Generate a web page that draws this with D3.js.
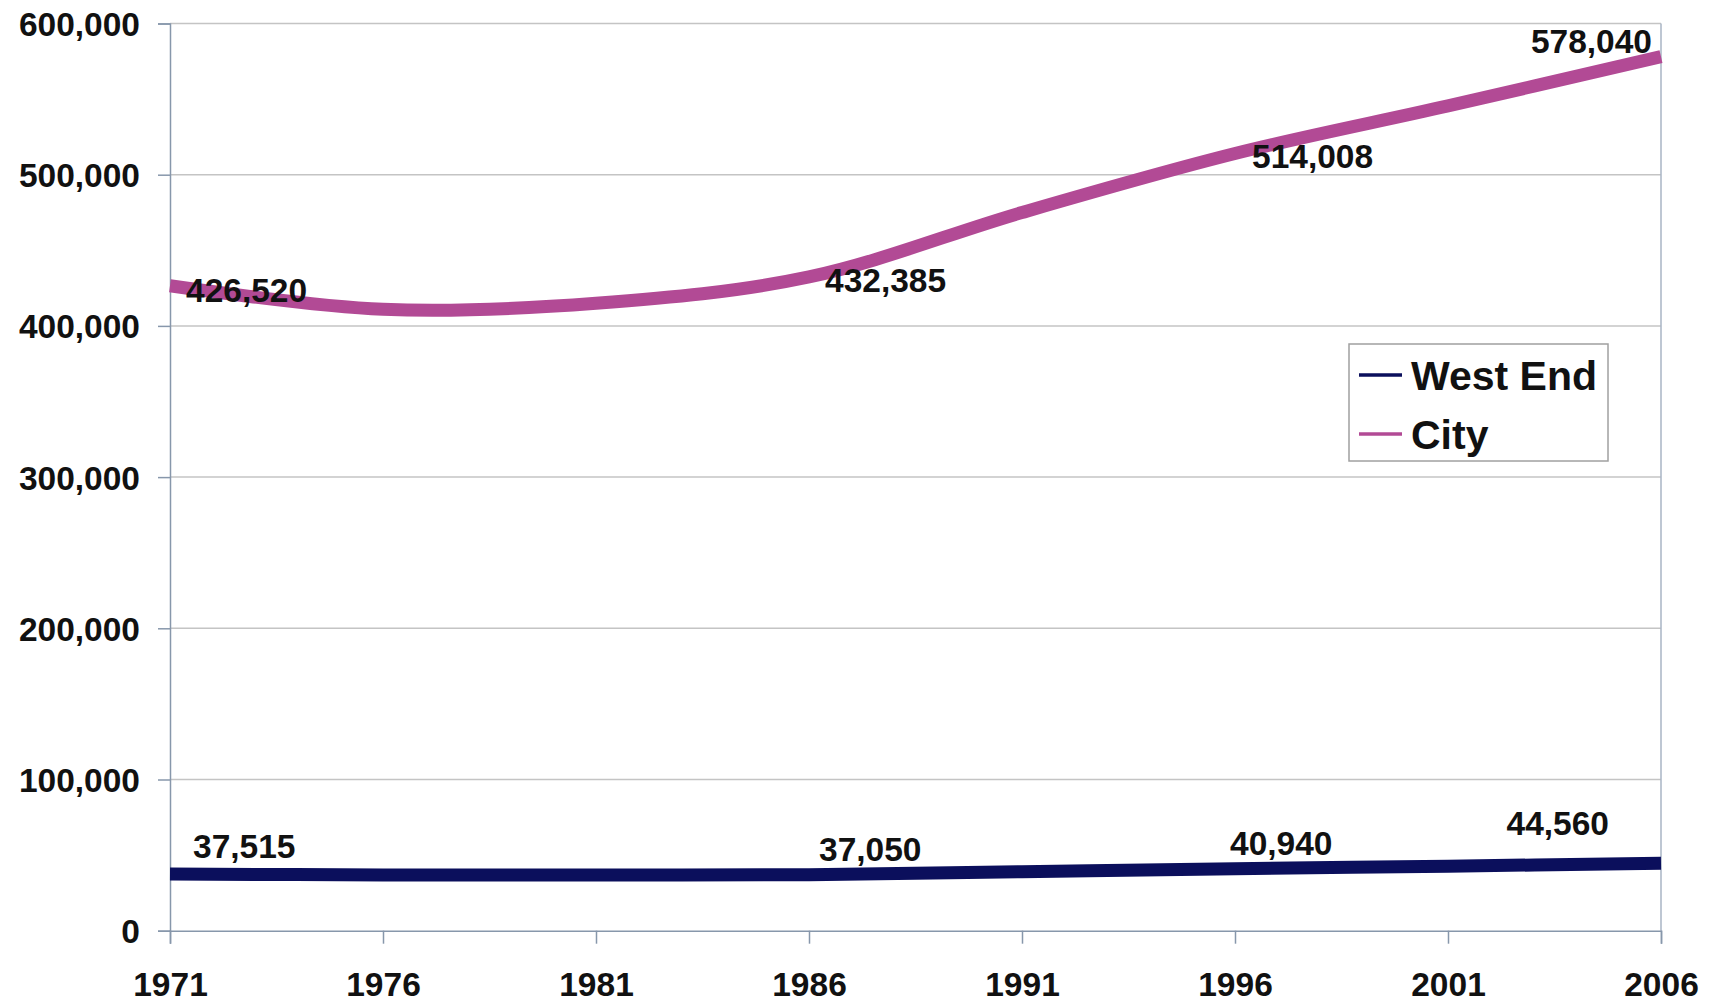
<!DOCTYPE html>
<html>
<head>
<meta charset="utf-8">
<script src="https://cdn.jsdelivr.net/npm/d3@7"></script>
<style>
  body { margin: 0; background: #fff; overflow: hidden; }
  text { font-family: "Liberation Sans", Arial, sans-serif; font-weight: bold; fill: #111; }
</style>
</head>
<body>
<div id="chart"></div>
<script>
var years = [1971, 1976, 1981, 1986, 1991, 1996, 2001, 2006];
var westEnd = [37515, 36900, 36800, 37050, 39000, 40940, 42700, 44560];
var city = [426520, 411000, 415000, 432385, 475000, 514008, 545500, 578040];
var labelledYears = [1971, 1986, 1996, 2006];
var yTicks = [0, 100000, 200000, 300000, 400000, 500000, 600000];
var seriesNames = ["West End", "City"];

var svgWidth = 1712;
var svgHeight = 1003;
var margin = { top: 23.5, right: 51, bottom: 72.3, left: 170 };
var width = svgWidth - margin.left - margin.right;
var height = svgHeight - margin.top - margin.bottom;

var colors = { "West End": "#0b0f5c", "City": "#b24a95" };

var svg = d3.select("#chart")
  .append("svg")
  .attr("width", svgWidth)
  .attr("height", svgHeight)
  .style("display", "block");

var chartGroup = svg.append("g")
  .attr("transform", `translate(${margin.left}, ${margin.top})`);

var xScale = d3.scaleLinear().domain([1971, 2006]).range([0, width]);
var yScale = d3.scaleLinear().domain([0, 600000]).range([height, 0]);

// gridlines
chartGroup.append("g")
  .selectAll("line")
  .data(yTicks.filter(d => d > 0))
  .enter().append("line")
  .attr("x1", 0).attr("x2", width)
  .attr("y1", d => yScale(d)).attr("y2", d => yScale(d))
  .attr("stroke", "#c4c4c4")
  .attr("stroke-width", 1.5);

// right border of plot area
chartGroup.append("line")
  .attr("x1", width).attr("x2", width)
  .attr("y1", 0).attr("y2", height)
  .attr("stroke", "#a8b4c4")
  .attr("stroke-width", 1.5);

// axes
var fmt = d3.format(",");
var yAxis = d3.axisLeft(yScale).tickValues(yTicks).tickFormat(fmt).tickSize(12).tickPadding(18);
var xAxis = d3.axisBottom(xScale).tickValues(years).tickFormat(d3.format("d")).tickSize(13).tickPadding(29);

var yg = chartGroup.append("g").call(yAxis);
var xg = chartGroup.append("g").attr("transform", `translate(0, ${height})`).call(xAxis);

[yg, xg].forEach(function(g) {
  g.select(".domain").attr("stroke", "#8797ab").attr("stroke-width", 1.5);
  g.selectAll(".tick line").attr("stroke", "#8797ab").attr("stroke-width", 1.5);
  g.selectAll(".tick text").style("font-size", "33.5px").attr("fill", "#111");
});
xg.selectAll(".tick text").attr("dy", "0.71em");
yg.selectAll(".tick text").attr("dy", "0.36em");

// lines
var line = d3.line()
  .x((d, i) => xScale(years[i]))
  .y(d => yScale(d))
  .curve(d3.curveCatmullRom.alpha(0));

var seriesData = { "West End": westEnd, "City": city };

seriesNames.forEach(function(name) {
  chartGroup.append("path")
    .datum(seriesData[name])
    .attr("fill", "none")
    .attr("stroke", colors[name])
    .attr("stroke-width", 13)
    .attr("stroke-linecap", "butt")
    .attr("d", line);
});

// data labels (offsets from the point, in px)
var labelStyle = {
  "City": [[16, 16, "start"], [16, 15, "start"], [17, 14, "start"], [-9, -4, "end"]],
  "West End": [[23, -16, "start"], [10, -14, "start"], [-5, -14, "start"], [-52, -28, "end"]]
};

seriesNames.forEach(function(name) {
  labelledYears.forEach(function(yr, k) {
    var i = years.indexOf(yr);
    var v = seriesData[name][i];
    var s = labelStyle[name][k];
    chartGroup.append("text")
      .attr("x", xScale(yr) + s[0])
      .attr("y", yScale(v) + s[1])
      .attr("text-anchor", s[2])
      .style("font-size", "33.5px")
      .text(fmt(v));
  });
});

// legend
var legend = svg.append("g").attr("transform", "translate(1349, 344)");
legend.append("rect")
  .attr("width", 259).attr("height", 117)
  .attr("fill", "#fff")
  .attr("stroke", "#a0a0a0")
  .attr("stroke-width", 1.5);

seriesNames.forEach(function(name, i) {
  var ly = 31 + i * 59;
  legend.append("line")
    .attr("x1", 10).attr("x2", 53)
    .attr("y1", ly).attr("y2", ly)
    .attr("stroke", colors[name])
    .attr("stroke-width", 3.5);
  legend.append("text")
    .attr("x", 62).attr("y", ly + 15)
    .style("font-size", "41px")
    .text(name);
});
</script>
</body>
</html>
